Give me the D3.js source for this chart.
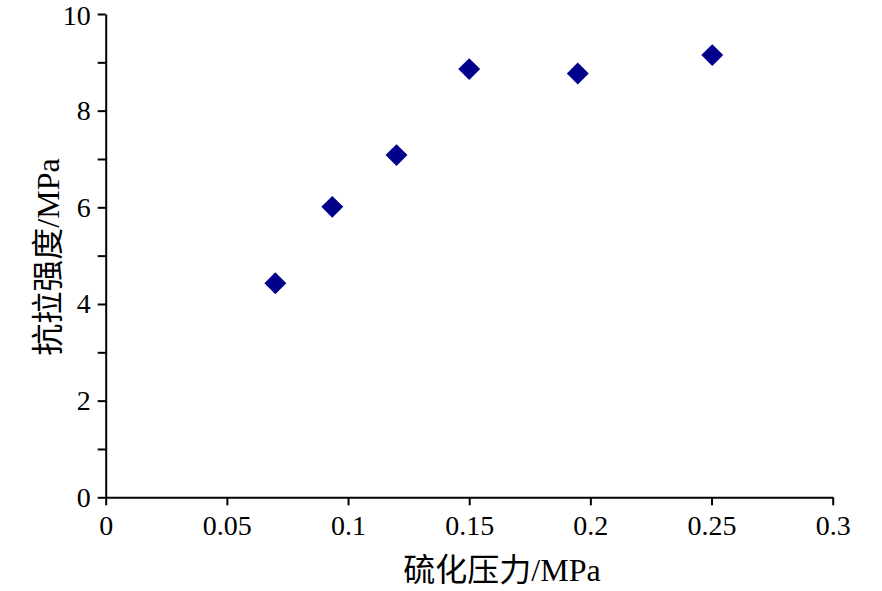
<!DOCTYPE html>
<html>
<head>
<meta charset="utf-8">
<script src="https://cdn.jsdelivr.net/npm/d3@7"></script>
<style>
  body { margin: 0; background: #fff; }
  svg { display: block; }
</style>
</head>
<body>
<svg id="chart" width="882" height="591"></svg>
<script>
// Data
const pressure = [0.07, 0.0935, 0.12, 0.15, 0.1948, 0.2503];
const strength = [4.43, 6.01, 7.08, 8.86, 8.77, 9.15];
const xTicks = [0, 0.05, 0.1, 0.15, 0.2, 0.25, 0.3];
const xTickLabels = ["0", "0.05", "0.1", "0.15", "0.2", "0.25", "0.3"];
const yMajorTicks = [0, 2, 4, 6, 8, 10];
const yMinorTicks = [1, 3, 5, 7, 9];
const xTitle = "硫化压力/MPa";
const yTitle = "抗拉强度/MPa";

const FONT = "'Liberation Serif', 'DejaVu Serif', 'Noto Sans CJK SC', serif";

const svg = d3.select("#chart");
const mLeft = 105.7, mRight = 832.7, mTop = 14, mBottom = 497.3;

const x = d3.scaleLinear().domain([0, 0.3]).range([mLeft, mRight]);
const y = d3.scaleLinear().domain([0, 10]).range([mBottom, mTop]);

// X axis
const xAxis = svg.append("g").attr("transform", `translate(0,${mBottom})`)
  .call(d3.axisBottom(x).tickValues(xTicks)
    .tickFormat((d, i) => xTickLabels[i]).tickSize(8).tickSizeOuter(0).tickPadding(10));
xAxis.attr("font-family", null);
xAxis.select(".domain").attr("stroke", "#000").attr("stroke-width", 2);
xAxis.selectAll(".tick line").attr("stroke", "#000").attr("stroke-width", 2);
xAxis.selectAll(".tick text").attr("fill", "#000")
  .style("font-family", FONT).style("font-size", "28px");

// Y axis minor ticks
const yMinor = svg.append("g").attr("transform", `translate(${mLeft},0)`)
  .call(d3.axisLeft(y).tickValues(yMinorTicks).tickFormat("").tickSize(8).tickSizeOuter(0));
yMinor.select(".domain").remove();
yMinor.selectAll(".tick line").attr("stroke", "#000").attr("stroke-width", 2);

// Y axis
const yAxis = svg.append("g").attr("transform", `translate(${mLeft},0)`)
  .call(d3.axisLeft(y).tickValues(yMajorTicks).tickFormat(d3.format("d"))
    .tickSize(8).tickSizeOuter(0).tickPadding(7));
yAxis.attr("font-family", null);
yAxis.select(".domain").attr("stroke", "#000").attr("stroke-width", 2);
yAxis.selectAll(".tick line").attr("stroke", "#000").attr("stroke-width", 2);
yAxis.selectAll(".tick text").attr("fill", "#000")
  .style("font-family", FONT).style("font-size", "28px");
yAxis.selectAll(".tick").filter(d => d === 10).select("text").attr("dy", "0.38em");

// Points
const sym = d3.symbol().type(d3.symbolSquare).size(240);
svg.append("g").selectAll("path").data(pressure).join("path")
  .attr("d", sym)
  .attr("transform", (d, i) => `translate(${x(d)},${y(strength[i])}) rotate(45)`)
  .attr("fill", "#00008B");

// Axis titles
svg.append("text")
  .attr("x", 502).attr("y", 581)
  .attr("text-anchor", "middle").attr("fill", "#000")
  .style("font-family", FONT).style("font-size", "32px")
  .text(xTitle);

svg.append("text")
  .attr("transform", `translate(59,257) rotate(-90)`)
  .attr("text-anchor", "middle").attr("fill", "#000")
  .style("font-family", FONT).style("font-size", "32px")
  .text(yTitle);
</script>
</body>
</html>
